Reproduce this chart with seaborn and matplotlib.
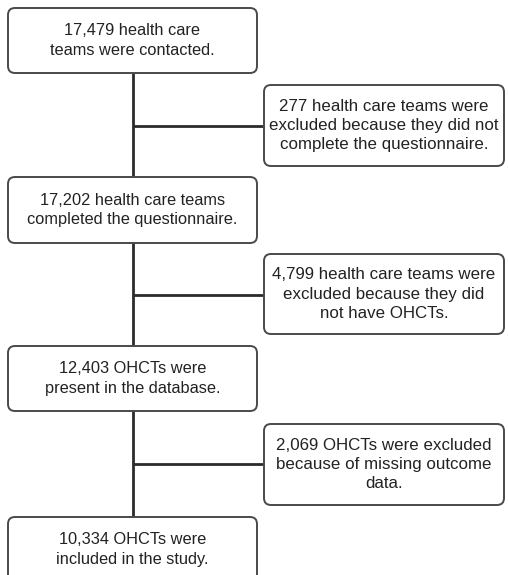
import matplotlib
matplotlib.use('Agg')
import matplotlib.pyplot as plt
from matplotlib.patches import FancyBboxPatch
import seaborn as sns

# Textes des étapes principales et des exclusions
main_steps = [
    "17,479 health care\nteams were contacted.",
    "17,202 health care teams\ncompleted the questionnaire.",
    "12,403 OHCTs were\npresent in the database.",
    "10,334 OHCTs were\nincluded in the study.",
]
exclusions = [
    "277 health care teams were\nexcluded because they did not\ncomplete the questionnaire.",
    "4,799 health care teams were\nexcluded because they did\nnot have OHCTs.",
    "2,069 OHCTs were excluded\nbecause of missing outcome\ndata.",
]

sns.set_theme(style='white')
plt.rcParams['font.family'] = ['Liberation Sans', 'DejaVu Sans']

# Mise en page (pixels)
main_x0, main_x1 = 8, 257
main_y = [(8, 73), (177, 243), (346, 411), (517, 582)]
side_x0, side_x1 = 264, 504
side_y = [(85, 166), (254, 334), (424, 505)]
spine_x = 133
branch_y = [126, 295, 464]

fig = plt.figure(figsize=(5.08, 5.75), dpi=100)
ax = fig.add_axes([0, 0, 1, 1])
ax.set_xlim(0, 508)
ax.set_ylim(575, 0)
ax.axis('off')

line_col = '#2b2b2b'
box_col = '#4a4a4a'

# Ligne verticale principale et branches
ax.plot([spine_x, spine_x], [main_y[0][1], main_y[-1][0]], color=line_col, lw=2, solid_capstyle='butt', zorder=1)
for by in branch_y:
    ax.plot([spine_x, side_x0], [by, by], color=line_col, lw=2, solid_capstyle='butt', zorder=1)


def draw_box(x0, x1, y0, y1, text, fs):
    box = FancyBboxPatch((x0, y0), x1 - x0, y1 - y0,
                         boxstyle='round,pad=0,rounding_size=7',
                         facecolor='white', edgecolor=box_col, lw=1.4, zorder=2)
    ax.add_patch(box)
    ax.text((x0 + x1) / 2, (y0 + y1) / 2, text, ha='center', va='center',
            fontsize=fs, color='#222222', linespacing=1.35, zorder=3)


for (y0, y1), txt in zip(main_y, main_steps):
    draw_box(main_x0, main_x1, y0, y1, txt, 11.8)
for (y0, y1), txt in zip(side_y, exclusions):
    draw_box(side_x0, side_x1, y0, y1, txt, 12.2)

plt.savefig('out.png', dpi=100)
